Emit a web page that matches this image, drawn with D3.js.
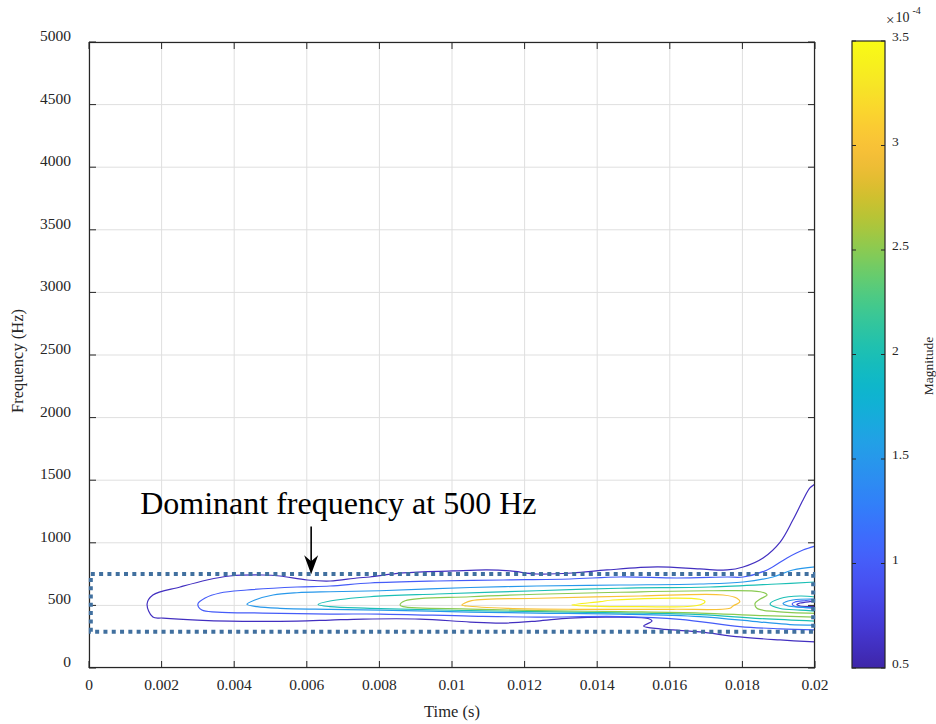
<!DOCTYPE html>
<html>
<head>
<meta charset="utf-8">
<script src="https://cdn.jsdelivr.net/npm/d3@7"></script>
<style>
  html, body { margin: 0; padding: 0; background: #fff; }
  svg { display: block; font-family: "Liberation Serif", "Times New Roman", serif; }
</style>
</head>
<body>
<svg id="chart" width="936" height="724"></svg>
<script>
// ---------------- DATA ----------------
const xTicks = [0, 0.002, 0.004, 0.006, 0.008, 0.01, 0.012, 0.014, 0.016, 0.018, 0.02];
const xTickLabels = ["0", "0.002", "0.004", "0.006", "0.008", "0.01", "0.012", "0.014", "0.016", "0.018", "0.02"];
const yTicks = [0, 500, 1000, 1500, 2000, 2500, 3000, 3500, 4000, 4500, 5000];
const yTickLabels = ["0", "500", "1000", "1500", "2000", "2500", "3000", "3500", "4000", "4500", "5000"];
const cTicks = [0.5, 1, 1.5, 2, 2.5, 3, 3.5];
const cTickLabels = ["0.5", "1", "1.5", "2", "2.5", "3", "3.5"];
const cRange = [0.5, 3.5];          // x 10^-4
const levels = [0.6, 1.0, 1.5, 2.0, 2.5, 3.0, 3.4];

// contour lines: [time (s), frequency (Hz)]
const c06_main = [[0.0200,1470],[0.01986,1438],[0.01967,1342],[0.01939,1182],[0.01904,1006],[0.01857,879],[0.01802,807],[0.01758,783],[0.01683,791],[0.01565,807],[0.01427,783],[0.01333,759],[0.01234,751],[0.01160,775],[0.01096,783],[0.01003,775],[0.00865,759],[0.00774,727],[0.00738,719],[0.00664,695],[0.00601,703],[0.00526,735],[0.00479,743],[0.00388,735],[0.00325,703],[0.00251,647],[0.00176,583],[0.00160,511],[0.00176,407],[0.00204,399],[0.00298,383],[0.00388,375],[0.00573,375],[0.00664,383],[0.00755,391],[0.00912,391],[0.01050,367],[0.01141,359],[0.01234,375],[0.01325,399],[0.01435,407],[0.01540,395],[0.01551,375],[0.01528,335],[0.01573,313],[0.01609,304],[0.01683,288],[0.01793,248],[0.01904,224],[0.0200,208]];
const c06_edge = [[0.0200,533],[0.01986,530],[0.01959,519],[0.01950,507],[0.01959,495],[0.01986,491],[0.0200,491]];
const c10_main = [[0.0200,974],[0.01967,942],[0.01923,879],[0.01868,783],[0.01802,727],[0.01758,727],[0.01620,719],[0.01463,727],[0.01325,711],[0.01141,703],[0.00959,695],[0.00774,679],[0.00664,655],[0.00573,647],[0.00435,623],[0.00361,599],[0.00320,559],[0.00300,511],[0.00311,463],[0.00353,447],[0.00479,439],[0.00664,431],[0.00802,431],[0.01050,415],[0.01234,407],[0.01463,411],[0.01628,389],[0.01793,331],[0.01904,313],[0.0200,304]];
const c10_edge = [[0.0200,547],[0.01975,539],[0.01945,527],[0.01937,511],[0.01945,491],[0.01975,483],[0.0200,479]];
const c15_main = [[0.0200,807],[0.01939,783],[0.01884,727],[0.01802,687],[0.01683,671],[0.01463,663],[0.01234,655],[0.01050,643],[0.00802,617],[0.00664,609],[0.00573,601],[0.00507,583],[0.00457,543],[0.00435,509],[0.00463,490],[0.00526,477],[0.00664,469],[0.00802,463],[0.01050,447],[0.01234,439],[0.01463,431],[0.01683,411],[0.01849,367],[0.01931,347],[0.0200,343]];
const c15_edge = [[0.0200,551],[0.01959,549],[0.01926,535],[0.01912,515],[0.01926,495],[0.01959,487],[0.0200,483]];
const c20_main = [[0.0200,687],[0.01895,671],[0.01711,647],[0.01463,637],[0.01234,617],[0.00959,591],[0.00774,569],[0.00664,535],[0.00631,507],[0.00664,490],[0.00774,477],[0.01050,458],[0.01463,441],[0.01683,427],[0.01849,395],[0.0200,375]];
const c20_edge = [[0.0200,567],[0.01959,575],[0.01904,555],[0.01876,511],[0.01904,475],[0.01959,463],[0.0200,455]];
const c25_main = [[0.0200,437],[0.01895,450],[0.01840,477],[0.01835,517],[0.01849,551],[0.01868,583],[0.01849,609],[0.01711,617],[0.01463,605],[0.01234,589],[0.01050,569],[0.00871,537],[0.00857,503],[0.00865,490],[0.01050,471],[0.01234,459],[0.01463,450],[0.01683,439],[0.01849,419],[0.0200,407]];
const c30_loop = [[0.01027,503],[0.01054,538],[0.01242,557],[0.01518,575],[0.01747,583],[0.01785,557],[0.01793,530],[0.01774,495],[0.01766,477],[0.01609,469],[0.01333,469],[0.01152,477],[0.01041,495]];
const c34_loop = [[0.01330,503],[0.01408,530],[0.01443,543],[0.01683,549],[0.01697,530],[0.01675,499],[0.01518,490],[0.01380,495]];

// annotation
const noteText = "Dominant frequency at 500 Hz";
const noteBox = { t0: 0.00005, t1: 0.01995, f0: 290, f1: 750 };
const arrowAt = { t: 0.00612, fFrom: 1130, fTo: 748 };
const textAt = { t: 0.00141, f: 1230 };

// parula colour map (MATLAB)
const parula = [[62,38,168],[69,55,213],[72,77,240],[69,99,253],[50,124,252],[43,145,239],[32,165,227],[8,181,208],[25,191,182],[55,200,151],[100,205,111],[157,201,67],[209,191,39],[248,186,61],[252,207,48],[245,233,36],[249,251,21]];

// ---------------- CHART ----------------
const svg = d3.select("#chart");
const plot = { left: 89, right: 815, top: 42, bottom: 668 };
const x = d3.scaleLinear().domain([0, 0.02]).range([plot.left, plot.right]);
const y = d3.scaleLinear().domain([0, 5000]).range([plot.bottom, plot.top]);

const parulaInterp = d3.interpolateRgbBasis(parula.map(c => d3.rgb(c[0], c[1], c[2])));
const cnorm = d3.scaleLinear().domain(cRange).range([0, 1]).clamp(true);
const colorOf = v => parulaInterp(cnorm(v));

const axisColor = "#262626";
const gridColor = "#dfdfdf";

// grid
const g = svg.append("g");
g.selectAll("line.gx").data(xTicks).join("line")
  .attr("x1", d => x(d)).attr("x2", d => x(d))
  .attr("y1", plot.top).attr("y2", plot.bottom)
  .attr("stroke", gridColor).attr("stroke-width", 1);
g.selectAll("line.gy").data(yTicks).join("line")
  .attr("y1", d => y(d)).attr("y2", d => y(d))
  .attr("x1", plot.left).attr("x2", plot.right)
  .attr("stroke", gridColor).attr("stroke-width", 1);

// clip
svg.append("clipPath").attr("id", "clipPlot").append("rect")
  .attr("x", plot.left).attr("y", plot.top)
  .attr("width", plot.right - plot.left).attr("height", plot.bottom - plot.top);

const contourPaths = [
  { level: levels[0], pts: c06_main, closed: false },
  { level: levels[0], pts: c06_edge, closed: false },
  { level: levels[1], pts: c10_main, closed: false },
  { level: levels[1], pts: c10_edge, closed: false },
  { level: levels[2], pts: c15_main, closed: false },
  { level: levels[2], pts: c15_edge, closed: false },
  { level: levels[3], pts: c20_main, closed: false },
  { level: levels[3], pts: c20_edge, closed: false },
  { level: levels[4], pts: c25_main, closed: false },
  { level: levels[5], pts: c30_loop, closed: true },
  { level: levels[6], pts: c34_loop, closed: true }
];
const lineOpen = d3.line().x(d => x(d[0])).y(d => y(d[1])).curve(d3.curveCatmullRom.alpha(0.5));
const lineClosed = d3.line().x(d => x(d[0])).y(d => y(d[1])).curve(d3.curveCatmullRomClosed.alpha(0.5));

const cg = svg.append("g").attr("clip-path", "url(#clipPlot)");
cg.selectAll("path.contour").data(contourPaths).join("path")
  .attr("class", "contour")
  .attr("d", d => (d.closed ? lineClosed : lineOpen)(d.pts))
  .attr("fill", "none")
  .attr("stroke", d => colorOf(d.level))
  .attr("stroke-width", 1.2)
  .attr("stroke-linejoin", "round");

// axes box + ticks (inside)
const ax = svg.append("g");
ax.append("rect")
  .attr("x", plot.left + 0.5).attr("y", plot.top + 0.5)
  .attr("width", plot.right - plot.left - 1).attr("height", plot.bottom - plot.top - 1)
  .attr("fill", "none").attr("stroke", axisColor).attr("stroke-width", 1.2);
const tl = 7;
ax.selectAll("line.xtb").data(xTicks).join("line")
  .attr("x1", d => x(d)).attr("x2", d => x(d))
  .attr("y1", plot.bottom).attr("y2", plot.bottom - tl)
  .attr("stroke", axisColor);
ax.selectAll("line.xtt").data(xTicks).join("line")
  .attr("x1", d => x(d)).attr("x2", d => x(d))
  .attr("y1", plot.top).attr("y2", plot.top + tl)
  .attr("stroke", axisColor);
ax.selectAll("line.ytl").data(yTicks).join("line")
  .attr("y1", d => y(d)).attr("y2", d => y(d))
  .attr("x1", plot.left).attr("x2", plot.left + tl)
  .attr("stroke", axisColor);
ax.selectAll("line.ytr").data(yTicks).join("line")
  .attr("y1", d => y(d)).attr("y2", d => y(d))
  .attr("x1", plot.right).attr("x2", plot.right - tl)
  .attr("stroke", axisColor);

// tick labels
ax.selectAll("text.xl").data(xTicks).join("text")
  .attr("x", d => x(d)).attr("y", plot.bottom + 22)
  .attr("text-anchor", "middle")
  .attr("font-size", 15.5).attr("fill", axisColor)
  .text((d, i) => xTickLabels[i]);
ax.selectAll("text.yl").data(yTicks).join("text")
  .attr("x", plot.left - 18).attr("y", d => y(d) - 1)
  .attr("text-anchor", "end")
  .attr("font-size", 15.5).attr("fill", axisColor)
  .text((d, i) => yTickLabels[i]);

// axis labels
svg.append("text").attr("x", (plot.left + plot.right) / 2).attr("y", 717)
  .attr("text-anchor", "middle").attr("font-size", 16.5).attr("fill", axisColor)
  .text("Time (s)");
svg.append("text")
  .attr("transform", `translate(23, ${(plot.top + plot.bottom) / 2 + 6}) rotate(-90)`)
  .attr("text-anchor", "middle").attr("font-size", 16.5).attr("fill", axisColor)
  .text("Frequency (Hz)");

// dotted box
svg.append("rect")
  .attr("x", x(noteBox.t0)).attr("y", y(noteBox.f1))
  .attr("width", x(noteBox.t1) - x(noteBox.t0)).attr("height", y(noteBox.f0) - y(noteBox.f1))
  .attr("fill", "none").attr("stroke", "#41709f").attr("stroke-width", 4)
  .attr("stroke-dasharray", "4 4.3");

// arrow
const ax0 = x(arrowAt.t), ay0 = y(arrowAt.fFrom), ay1 = y(arrowAt.fTo);
svg.append("line").attr("x1", ax0).attr("x2", ax0).attr("y1", ay0).attr("y2", ay1 - 10)
  .attr("stroke", "#000").attr("stroke-width", 1.6);
svg.append("path")
  .attr("d", `M${ax0},${ay1} L${ax0 - 7},${ay1 - 19} L${ax0},${ay1 - 13} L${ax0 + 7},${ay1 - 19} Z`)
  .attr("fill", "#000");

// annotation text
svg.append("text").attr("x", x(textAt.t)).attr("y", y(textAt.f))
  .attr("font-size", 32).attr("fill", "#000")
  .text(noteText);

// ---------------- COLORBAR ----------------
const cb = { left: 852, right: 885, top: 41, bottom: 668 };
const cy = d3.scaleLinear().domain(cRange).range([cb.bottom, cb.top]);
const grad = svg.append("defs").append("linearGradient")
  .attr("id", "parulaGrad").attr("x1", 0).attr("y1", 1).attr("x2", 0).attr("y2", 0);
d3.range(0, 1.0001, 1 / 64).forEach(s => {
  grad.append("stop").attr("offset", s).attr("stop-color", parulaInterp(s));
});
svg.append("rect")
  .attr("x", cb.left).attr("y", cb.top)
  .attr("width", cb.right - cb.left).attr("height", cb.bottom - cb.top)
  .attr("fill", "url(#parulaGrad)")
  .attr("stroke", axisColor).attr("stroke-width", 1.2);
svg.selectAll("line.cbt").data(cTicks).join("line")
  .attr("x1", cb.right).attr("x2", cb.right - 4)
  .attr("y1", d => cy(d)).attr("y2", d => cy(d))
  .attr("stroke", axisColor);
svg.selectAll("line.cbtl").data(cTicks).join("line")
  .attr("x1", cb.left).attr("x2", cb.left + 4)
  .attr("y1", d => cy(d)).attr("y2", d => cy(d))
  .attr("stroke", axisColor);
svg.selectAll("text.cbl").data(cTicks).join("text")
  .attr("x", cb.right + 7).attr("y", d => cy(d))
  .attr("font-size", 13.5).attr("fill", axisColor)
  .text((d, i) => cTickLabels[i]);
// exponent
const ex = svg.append("text").attr("x", 886).attr("y", 25).attr("font-size", 15).attr("fill", axisColor);
ex.append("tspan").text("\u00d7");
ex.append("tspan").attr("dx", 1).attr("dy", -3).attr("font-size", 14).text("10");
ex.append("tspan").attr("dx", 3).attr("dy", -8).attr("font-size", 10).text("-4");
// colorbar label
svg.append("text")
  .attr("transform", `translate(933, 366) rotate(-90)`)
  .attr("text-anchor", "middle").attr("font-size", 13.5).attr("fill", axisColor)
  .text("Magnitude");
</script>
</body>
</html>
